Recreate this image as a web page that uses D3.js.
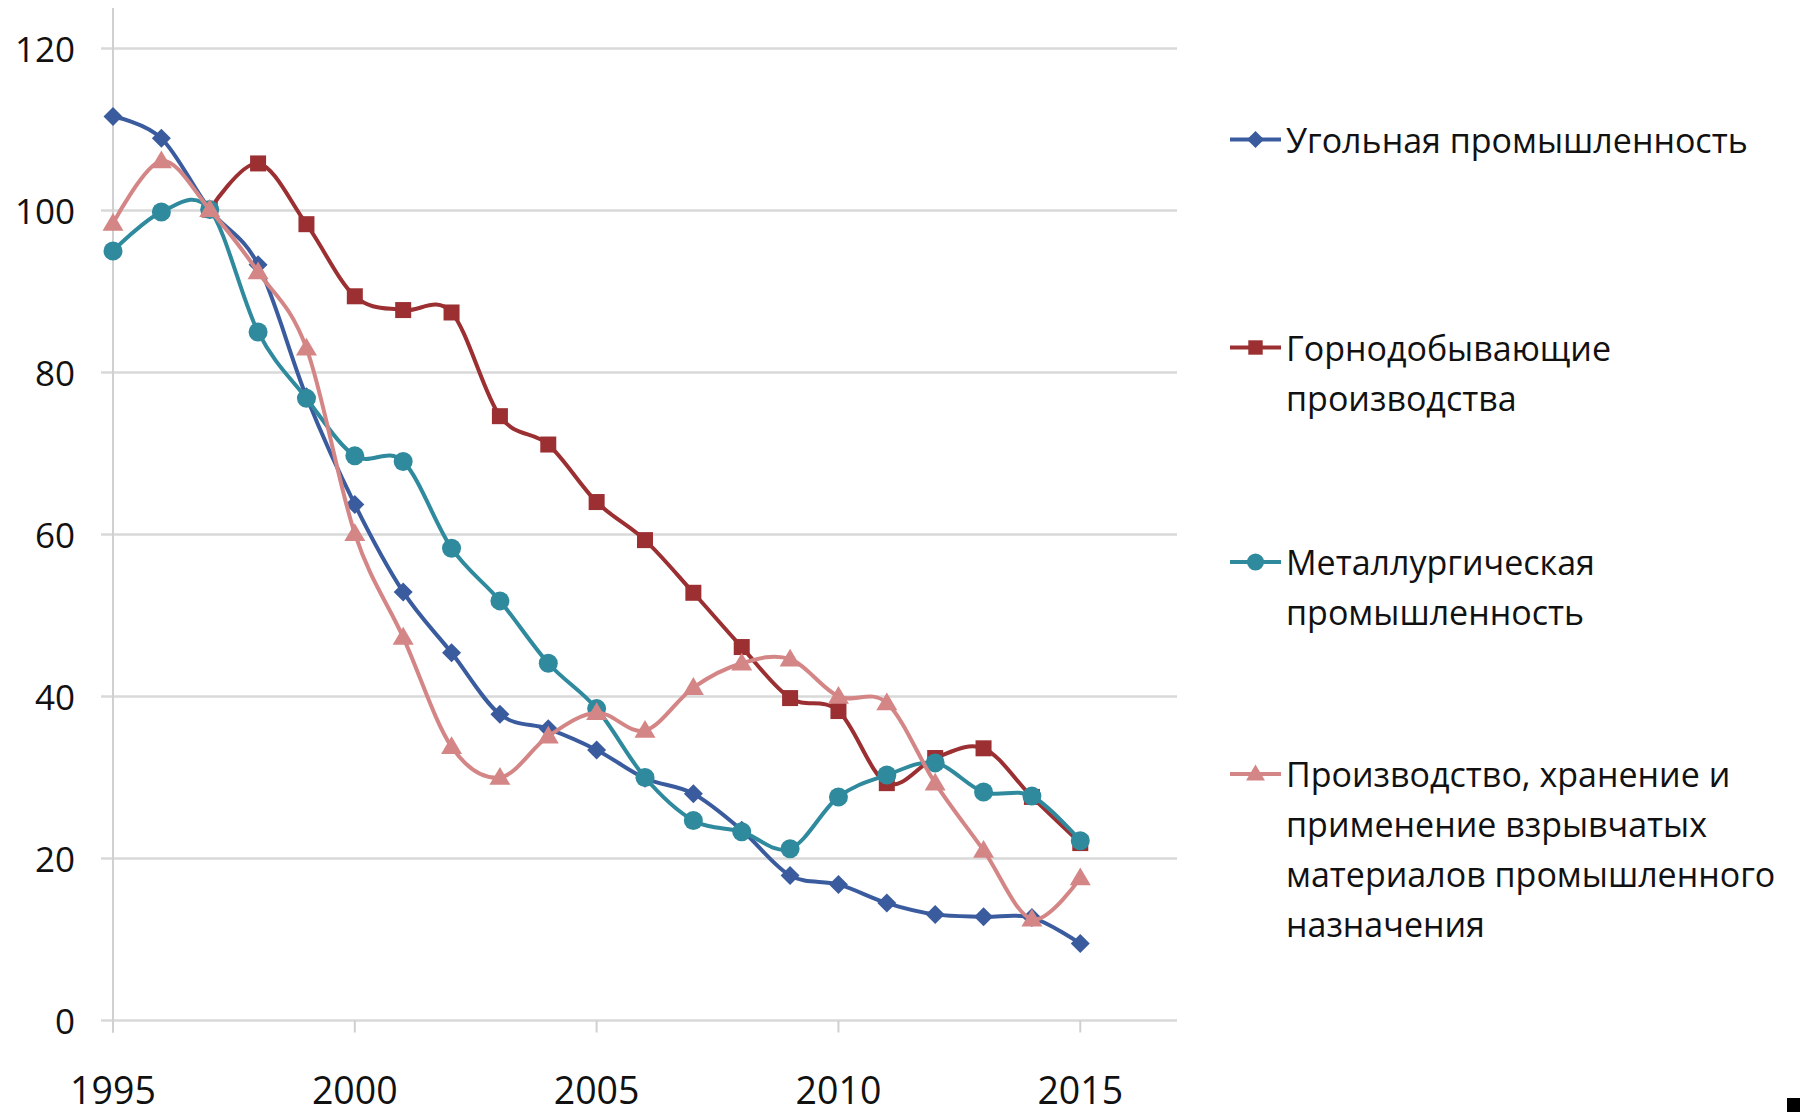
<!DOCTYPE html>
<html>
<head>
<meta charset="utf-8">
<script src="https://cdn.jsdelivr.net/npm/d3@7"></script>
<style>
  html, body { margin: 0; padding: 0; background: #fff; }
  svg { display: block; font-family: "Open Sans", "Noto Sans", sans-serif; }
</style>
</head>
<body>
<svg id="chart" width="1806" height="1115"></svg>
<script>
// ---- data ----
const years = [1995,1996,1997,1998,1999,2000,2001,2002,2003,2004,2005,2006,2007,2008,2009,2010,2011,2012,2013,2014,2015];
const coal = [111.6,108.9,100.1,93.3,77.0,63.7,52.9,45.4,37.8,36.0,33.4,29.9,28.0,23.5,17.9,16.8,14.5,13.1,12.8,12.7,9.5];
const mining = [null,null,100.1,105.8,98.3,89.4,87.7,87.4,74.6,71.1,64.0,59.3,52.8,46.1,39.8,38.2,29.3,32.4,33.6,27.6,21.9];
const metallurgy = [95.0,99.8,100.1,85.0,76.8,69.7,69.0,58.3,51.8,44.1,38.5,30.0,24.7,23.3,21.2,27.6,30.3,31.8,28.2,27.7,22.2];
const explosives = [98.4,106.1,100.1,92.4,83.0,60.1,47.3,33.8,30.0,35.1,38.0,35.8,41.1,44.1,44.6,40.0,39.2,29.3,21.0,12.5,17.6];
const seriesNames = [
  ["Угольная промышленность"],
  ["Горнодобывающие", "производства"],
  ["Металлургическая", "промышленность"],
  ["Производство, хранение и", "применение взрывчатых", "материалов промышленного", "назначения"]
];
const seriesColors = ["#3A5C9E", "#9B2F32", "#2F8A9E", "#D48585"];
const seriesMarkers = ["diamond", "square", "circle", "triangle"];
const yTicks = [0,20,40,60,80,100,120];
const xTicks = [1995,2000,2005,2010,2015];

const allSeries = [coal, mining, metallurgy, explosives];

// ---- layout ----
const svg = d3.select("#chart");
const x = d3.scaleLinear().domain([1995, 2017]).range([113, 1177]);
const y = d3.scaleLinear().domain([0, 120]).range([1020.5, 48.4]);

// gridlines
svg.append("g").selectAll("line").data(yTicks).join("line")
  .attr("x1", 101).attr("x2", x(2017))
  .attr("y1", d => y(d)).attr("y2", d => y(d))
  .attr("stroke", "#D9D9D9").attr("stroke-width", 2.5);

// y axis line
svg.append("line").attr("x1", x(1995)).attr("x2", x(1995))
  .attr("y1", 8).attr("y2", y(0) + 12)
  .attr("stroke", "#D0D0D0").attr("stroke-width", 2);

// x ticks
svg.append("g").selectAll("line").data(xTicks).join("line")
  .attr("x1", d => x(d)).attr("x2", d => x(d))
  .attr("y1", y(0)).attr("y2", y(0) + 12)
  .attr("stroke", "#D0D0D0").attr("stroke-width", 2);

// y labels
svg.append("g").selectAll("text").data(yTicks).join("text")
  .attr("x", 75).attr("y", d => y(d))
  .attr("text-anchor", "end").attr("dominant-baseline", "central")
  .attr("font-size", 35).attr("fill", "#111")
  .text(d => d);

// x labels
svg.append("g").selectAll("text").data(xTicks).join("text")
  .attr("x", d => x(d)).attr("y", 1089)
  .attr("text-anchor", "middle").attr("dominant-baseline", "central")
  .attr("font-size", 37.5).attr("fill", "#111")
  .text(d => d);

// marker drawing
function drawMarker(g, type, color, cx, cy, scale) {
  const s = scale || 1;
  if (type === "diamond") {
    const r = 9.5 * s;
    g.append("path").attr("d", `M${cx},${cy-r}L${cx+r},${cy}L${cx},${cy+r}L${cx-r},${cy}Z`).attr("fill", color);
  } else if (type === "square") {
    const r = 8 * s;
    g.append("rect").attr("x", cx - r).attr("y", cy - r).attr("width", 2*r).attr("height", 2*r).attr("fill", color);
  } else if (type === "circle") {
    g.append("circle").attr("cx", cx).attr("cy", cy).attr("r", 9.5 * s).attr("fill", color);
  } else {
    const r = 10.5 * s;
    g.append("path").attr("d", `M${cx},${cy-r}L${cx+r},${cy+r*0.7}L${cx-r},${cy+r*0.7}Z`).attr("fill", color);
  }
}

// series lines
const line = d3.line()
  .defined(d => d.v != null)
  .x(d => x(d.year)).y(d => y(d.v))
  .curve(d3.curveCatmullRom.alpha(0));

allSeries.forEach((vals, i) => {
  const pts = years.map((yr, k) => ({ year: yr, v: vals[k] }));
  const g = svg.append("g");
  g.append("path").datum(pts.filter(p => p.v != null))
    .attr("d", line).attr("fill", "none")
    .attr("stroke", seriesColors[i]).attr("stroke-width", 4)
    .attr("stroke-linejoin", "round");
  pts.filter(p => p.v != null).forEach(p => drawMarker(g, seriesMarkers[i], seriesColors[i], x(p.year), y(p.v), 1));
});

// legend
const legendY = [139.5, 347.5, 562, 774];
const lineGap = 50;
seriesNames.forEach((lines, i) => {
  const g = svg.append("g");
  const cy = legendY[i];
  g.append("line").attr("x1", 1230).attr("x2", 1281).attr("y1", cy).attr("y2", cy)
    .attr("stroke", seriesColors[i]).attr("stroke-width", 4);
  drawMarker(g, seriesMarkers[i], seriesColors[i], 1255.5, cy, 0.9);
  lines.forEach((t, j) => {
    g.append("text").attr("x", 1286).attr("y", cy + j * lineGap)
      .attr("dominant-baseline", "central")
      .attr("font-size", 34).attr("fill", "#111").text(t);
  });
});

// small black square bottom-right
svg.append("rect").attr("x", 1787).attr("y", 1098).attr("width", 13).attr("height", 14).attr("fill", "#000");
</script>
</body>
</html>
